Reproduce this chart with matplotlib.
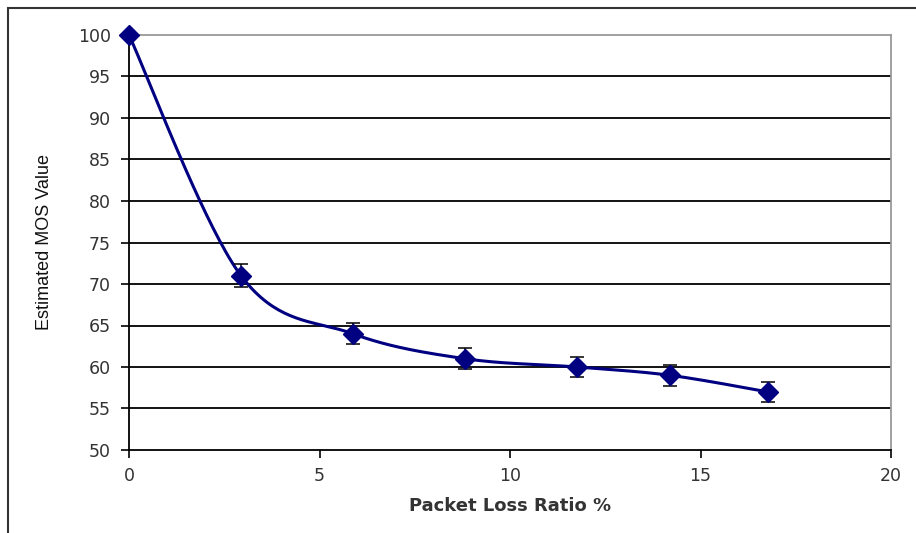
import numpy as np
import matplotlib.pyplot as plt
from matplotlib.patches import Rectangle

plt.rcParams["font.family"] = ["DejaVu Sans"]

loss_ratio = [0, 2.94, 5.88, 8.82, 11.76, 14.2, 16.77]
mos = [100, 71, 64, 61, 60, 59, 57]
mos_err = [0, 1.35, 1.25, 1.3, 1.2, 1.25, 1.2]


def smooth_curve(xs, ys, n=40):
    # Excel-style smoothed line (Catmull-Rom through the points)
    xs = np.asarray(xs, float)
    ys = np.asarray(ys, float)
    px = np.concatenate([[xs[0]], xs, [xs[-1]]])
    py = np.concatenate([[ys[0]], ys, [ys[-1]]])
    outx, outy = [], []
    t = np.linspace(0, 1, n)
    for i in range(1, len(px) - 2):
        for p, out in ((px, outx), (py, outy)):
            p0, p1, p2, p3 = p[i - 1], p[i], p[i + 1], p[i + 2]
            out.extend(0.5 * ((2 * p1) + (-p0 + p2) * t
                              + (2 * p0 - 5 * p1 + 4 * p2 - p3) * t ** 2
                              + (-p0 + 3 * p1 - 3 * p2 + p3) * t ** 3))
    return np.array(outx), np.array(outy)


fig = plt.figure(figsize=(9.16, 5.33), dpi=100)
ax = fig.add_axes([129 / 916, 1 - 450 / 533, (891 - 129) / 916, (450 - 35) / 533])

sx, sy = smooth_curve(loss_ratio, mos)
ax.plot(sx, sy, color="#000080", lw=2.2, zorder=3)
ax.errorbar(loss_ratio[1:], mos[1:], yerr=mos_err[1:], fmt="none",
            ecolor="black", elinewidth=1.1, capsize=5, capthick=1.1, zorder=4)
ax.plot(loss_ratio, mos, linestyle="none", marker="D", markersize=10,
        color="#000080", zorder=5, clip_on=False)

ax.set_xlim(0, 20)
ax.set_ylim(50, 100)
ax.set_xticks([0, 5, 10, 15, 20])
ax.set_yticks(range(50, 101, 5))
for y in range(55, 100, 5):
    ax.axhline(y, color="black", lw=1.3, zorder=1)

ax.spines["left"].set_color("black")
ax.spines["bottom"].set_color("black")
ax.spines["left"].set_linewidth(1.3)
ax.spines["bottom"].set_linewidth(1.3)
ax.spines["top"].set_color("#999999")
ax.spines["right"].set_color("#999999")
ax.spines["top"].set_linewidth(1.3)
ax.spines["right"].set_linewidth(1.3)

ax.tick_params(direction="out", length=6, width=1.2, labelsize=12.5,
               colors="black", labelcolor="#333333")
ax.tick_params(axis="x", pad=6)
ax.tick_params(axis="y", pad=7)

ax.set_xlabel("Packet Loss Ratio %", fontsize=13, fontweight="bold",
              color="#333333", labelpad=9)
fig.text(45 / 916, 1 - 242 / 533, "Estimated MOS Value", rotation=90,
         ha="center", va="center", fontsize=13, color="#111111",
         family="Liberation Sans")

fig.patches.append(Rectangle((8 / 916, -0.1), 1.2, 1 - 8 / 533 + 0.1,
                             transform=fig.transFigure, fill=False,
                             edgecolor="#333333", lw=1.5))

fig.savefig("out.png", dpi=100)
